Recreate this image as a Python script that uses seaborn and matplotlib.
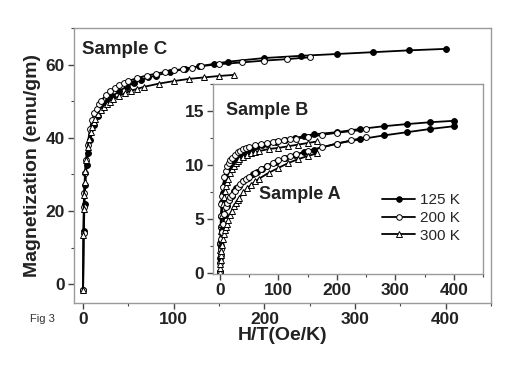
import matplotlib
matplotlib.use("Agg")
import matplotlib.pyplot as plt
import seaborn as sns
from matplotlib.lines import Line2D
from matplotlib.ticker import MultipleLocator

# ------------------------------
# data (H/T in Oe/K, M in emu/gm)
# ------------------------------
x_125 = [0, 0.8, 1.6, 2.4, 4, 5.6, 8, 12, 16, 20, 24, 28, 32, 40, 48, 56, 64, 72, 80,
         96, 112, 128, 144, 160, 200, 240, 280, 320, 360, 400]
x_200 = [0, 0.5, 1, 1.5, 2.5, 3.5, 5, 7.5, 10, 12.5, 15, 17.5, 20, 25, 30, 35, 40, 45, 50,
         60, 70, 80, 90, 100, 110, 120, 130, 150, 175, 200, 225, 250]
x_300 = [0, 0.33, 0.67, 1, 1.67, 2.33, 3.33, 5, 6.67, 8.33, 10, 11.67, 13.33, 16.67, 20,
         23.3, 26.7, 30, 33.3, 40, 46.7, 53.3, 60, 66.7, 83.3, 100, 116.7, 133.3, 150, 166.7]

# Sample C (main plot)
c_125 = [-1.5, 14.5, 22, 27, 32.5, 36, 39.5, 43.5, 46, 47.8, 49.2, 50.3, 51.3, 52.8, 54,
         55, 55.8, 56.5, 57, 58, 58.8, 59.5, 60.2, 60.8, 61.8, 62.4, 62.9, 63.4, 63.9, 64.3]
c_200 = [-1.5, 14, 21, 25, 30.5, 34, 38, 42.5, 45, 46.8, 48, 49.2, 50.2, 51.6, 52.7, 53.6,
         54.4, 55, 55.5, 56.4, 57, 57.5, 58, 58.4, 58.8, 59.2, 59.6, 60.1, 60.6, 61.1, 61.5, 62.0]
c_300 = [-1.5, 13.5, 20.5, 24.5, 28, 31, 34, 37.5, 39.8, 41.5, 43, 44.2, 45.2, 46.6, 47.6,
         48.5, 49.2, 49.9, 50.5, 51.5, 52.3, 52.9, 53.4, 53.9, 54.8, 55.5, 56.1, 56.5, 56.9, 57.2]

# Sample B (inset, upper)
b_125 = [0.1, 2.7, 4.3, 5.3, 6.6, 7.4, 8.3, 9.2, 9.75, 10.15, 10.45, 10.7, 10.9, 11.2, 11.4,
         11.6, 11.75, 11.85, 11.95, 12.1, 12.3, 12.5, 12.7, 12.85, 13.05, 13.35, 13.6, 13.8, 13.97, 14.1]
b_200 = [0.1, 2.8, 4.3, 5.3, 6.4, 7.2, 8.0, 8.9, 9.5, 9.9, 10.2, 10.45, 10.65, 10.95, 11.2,
         11.35, 11.5, 11.6, 11.7, 11.85, 11.97, 12.07, 12.15, 12.22, 12.3, 12.38, 12.46, 12.6,
         12.8, 13.0, 13.15, 13.3]
b_300 = [0.1, 1.2, 2.2, 2.9, 3.9, 4.6, 5.4, 6.4, 7.1, 7.6, 8.1, 8.45, 8.75, 9.25, 9.65, 9.95,
         10.2, 10.4, 10.55, 10.8, 10.95, 11.1, 11.2, 11.3, 11.5, 11.6, 11.75, 11.9, 12.05, 12.2]

# Sample A (inset, lower)
a_125 = [0.1, 1.4, 2.4, 3.0, 3.9, 4.6, 5.4, 6.2, 6.8, 7.2, 7.6, 7.85, 8.1, 8.5, 8.85, 9.15,
         9.4, 9.65, 9.9, 10.3, 10.65, 10.95, 11.2, 11.45, 12.0, 12.4, 12.75, 13.05, 13.35, 13.6]
a_200 = [0.1, 1.0, 1.7, 2.3, 3.2, 3.8, 4.6, 5.5, 6.1, 6.5, 6.8, 7.05, 7.25, 7.65, 7.95, 8.25,
         8.5, 8.75, 8.95, 9.3, 9.65, 9.95, 10.2, 10.45, 10.65, 10.85, 11.0, 11.3, 11.65, 12.0,
         12.3, 12.6]
a_300 = [0.1, 0.5, 0.9, 1.2, 1.7, 2.1, 2.6, 3.2, 3.6, 4.0, 4.3, 4.6, 4.9, 5.4, 5.8, 6.2,
         6.5, 6.8, 7.0, 7.5, 7.9, 8.2, 8.5, 8.75, 9.3, 9.75, 10.2, 10.55, 10.85, 11.1]

temps = ["125 K", "200 K", "300 K"]

sns.set_style("ticks")
plt.rcParams["font.family"] = ["Liberation Sans", "DejaVu Sans"]

SPINE = "#9a9a9a"
styles = {
    "125 K": dict(marker="o", markerfacecolor="black", markersize=4.2),
    "200 K": dict(marker="o", markerfacecolor="white", markersize=4.2),
    "300 K": dict(marker="^", markerfacecolor="white", markersize=4.4),
}


def draw(ax, xs, ys):
    for t, x, y in zip(temps, xs, ys):
        sns.lineplot(x=x, y=y, ax=ax, color="black", lw=1.3, markeredgecolor="black",
                     markeredgewidth=0.7, sort=False, **styles[t])


def style_axes(ax, size):
    for s in ["top", "right", "left", "bottom"]:
        ax.spines[s].set_color(SPINE)
        ax.spines[s].set_linewidth(1.0)
    ax.tick_params(which="major", direction="out", length=4, width=1, color="#444",
                   labelsize=size, pad=2.5)
    ax.tick_params(which="minor", direction="out", length=2.5, width=0.8, color="#444")
    for lab in ax.get_xticklabels() + ax.get_yticklabels():
        lab.set_fontweight("bold")
        lab.set_color("#222")


fig = plt.figure(figsize=(5.18, 3.66), dpi=100)

# ------------------------------
# main plot: Sample C
# ------------------------------
ax = fig.add_axes([0.1429, 0.173, 0.805, 0.7505])
draw(ax, [x_125, x_200, x_300], [c_125, c_200, c_300])
ax.set_xlim(-10, 450)
ax.set_ylim(-5, 70)
ax.xaxis.set_major_locator(MultipleLocator(100))
ax.xaxis.set_minor_locator(MultipleLocator(50))
ax.yaxis.set_major_locator(MultipleLocator(20))
ax.yaxis.set_minor_locator(MultipleLocator(10))
style_axes(ax, 12.5)
ax.set_xlabel("H/T(Oe/K)", fontsize=14, fontweight="bold", color="#222", labelpad=0)
ax.set_ylabel("Magnetization (emu/gm)", fontsize=14, fontweight="bold", color="#222", labelpad=3)
ax.text(0.02, 0.92, "Sample C", transform=ax.transAxes, fontsize=13.5, fontweight="bold",
        color="#222", va="center", ha="left")

# ------------------------------
# inset: Sample A and B
# ------------------------------
ax_in = fig.add_axes([0.4112, 0.2514, 0.5212, 0.519])
ax_in.set_facecolor("white")
draw(ax_in, [x_125, x_200, x_300], [b_125, b_200, b_300])
draw(ax_in, [x_125, x_200, x_300], [a_125, a_200, a_300])
ax_in.set_xlim(-12, 450)
ax_in.set_ylim(-0.05, 17.5)
ax_in.xaxis.set_major_locator(MultipleLocator(100))
ax_in.xaxis.set_minor_locator(MultipleLocator(50))
ax_in.yaxis.set_major_locator(MultipleLocator(5))
ax_in.yaxis.set_minor_locator(MultipleLocator(2.5))
style_axes(ax_in, 12.5)
ax_in.set_xlabel("")
ax_in.set_ylabel("")
ax_in.text(0.048, 0.86, "Sample B", transform=ax_in.transAxes, fontsize=13, fontweight="bold",
           color="#222", va="center", ha="left")
ax_in.text(0.17, 0.42, "Sample A", transform=ax_in.transAxes, fontsize=13, fontweight="bold",
           color="#222", va="center", ha="left")

handles = [Line2D([], [], color="black", lw=1.3, markeredgecolor="black",
                  markeredgewidth=0.7, **{**styles[t], "markersize": 4}) for t in temps]
ax_in.legend(handles, temps, loc="center right", bbox_to_anchor=(0.965, 0.295), frameon=False,
             fontsize=11, handlelength=2.2, handletextpad=0.3, labelspacing=0.25,
             numpoints=1)

fig.text(0.058, 0.12, "Fig 3", fontsize=8, color="#333")

plt.savefig("out.png", dpi=100)
plt.close()
